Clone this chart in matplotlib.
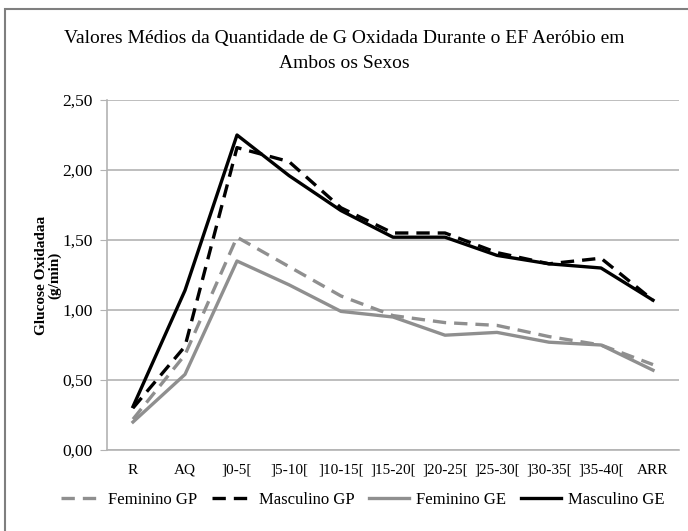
import matplotlib
matplotlib.use('Agg')
import matplotlib.pyplot as plt
from matplotlib.patches import Rectangle

categories = ['R', 'AQ', ']0-5[', ']5-10[', ']10-15[', ']15-20[', ']20-25[',
              ']25-30[', ']30-35[', ']35-40[', 'ARR']
feminino_gp = [0.22, 0.68, 1.52, 1.31, 1.10, 0.96, 0.91, 0.89, 0.81, 0.75, 0.61]
masculino_gp = [0.30, 0.74, 2.16, 2.06, 1.73, 1.55, 1.55, 1.41, 1.33, 1.37, 1.07]
feminino_ge = [0.20, 0.54, 1.35, 1.18, 0.99, 0.95, 0.82, 0.84, 0.77, 0.75, 0.57]
masculino_ge = [0.31, 1.14, 2.25, 1.96, 1.71, 1.52, 1.52, 1.39, 1.33, 1.30, 1.07]
yticks = [0.0, 0.5, 1.0, 1.5, 2.0, 2.5]

plt.rcParams['font.family'] = ['Liberation Serif', 'DejaVu Serif']
gray = '#8f8f8f'
grid_gray = '#b3b3b3'

fig = plt.figure(figsize=(6.88, 5.31), dpi=100)
ax = fig.add_axes([107 / 688, 1 - 450 / 531, 572 / 688, 350 / 531])

x = list(range(len(categories)))
lw = 2.4
dash = (4, 2.4)
ax.plot(x, feminino_gp, color=gray, lw=lw, dashes=dash, label='Feminino GP')
ax.plot(x, masculino_gp, color='black', lw=lw, dashes=dash, label='Masculino GP')
ax.plot(x, feminino_ge, color=gray, lw=lw, label='Feminino GE')
ax.plot(x, masculino_ge, color='black', lw=lw, label='Masculino GE')

ax.set_xlim(-0.5, len(categories) - 0.5)
ax.set_ylim(0, 2.5)
ax.set_yticks(yticks)
ax.set_yticklabels([('%.2f' % v).replace('.', ',') for v in yticks], fontsize=12.5)
ax.set_xticks(x)
ax.set_xticklabels(categories, fontsize=11)
ax.tick_params(axis='x', length=0, pad=10)
ax.tick_params(axis='y', length=5, color=grid_gray, pad=5)
ax.yaxis.grid(True, color=grid_gray, lw=1.2)
ax.set_axisbelow(True)
for s in ['top', 'right']:
    ax.spines[s].set_visible(False)
for s in ['left', 'bottom']:
    ax.spines[s].set_color(grid_gray)
    ax.spines[s].set_linewidth(1.2)

ax.set_ylabel('Glucose Oxidadaa\n(g/min)', fontsize=11, fontweight='bold',
              linespacing=1.0, labelpad=1)

fig.text(0.5, 1 - 38 / 531,
         'Valores Médios da Quantidade de G Oxidada Durante o EF Aeróbio em',
         ha='center', va='center', fontsize=14)
fig.text(0.5, 1 - 64 / 531, 'Ambos os Sexos', ha='center', va='center', fontsize=14)

fig.legend(loc='center', bbox_to_anchor=(0.527, 1 - 500 / 531), ncol=4,
           frameon=False, fontsize=12, handlelength=2.4, handletextpad=0.4,
           columnspacing=0.9)

fig.patches.append(Rectangle((5 / 688, -0.1), 1.2, 1 - 9 / 531 + 0.1,
                             transform=fig.transFigure, fill=False,
                             edgecolor='#7f7f7f', lw=1.5))

fig.savefig('out.png', dpi=100)
